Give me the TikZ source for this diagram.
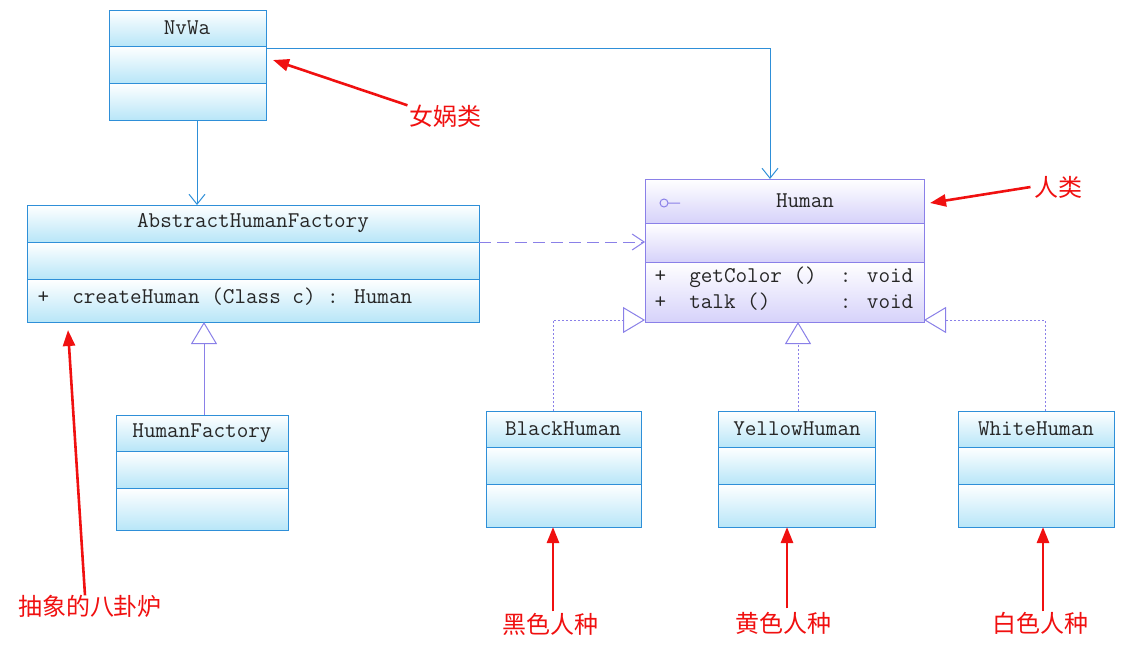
\documentclass[tikz,border=0pt]{standalone}
\usepackage{fontspec}
\newfontfamily\cjk{Noto Sans CJK SC}
\usetikzlibrary{arrows.meta}
\definecolor{bl}{HTML}{2E8FD8}
\definecolor{bfill}{HTML}{B8E6F8}
\definecolor{pl}{HTML}{8A80E8}
\definecolor{pfill}{HTML}{D6D2FA}
\definecolor{rd}{HTML}{F01010}
\tikzset{
  lbl/.style={font=\ttfamily\fontsize{22.5}{25}\selectfont, text=black!85},
  ann/.style={font=\cjk\fontsize{24}{28}\selectfont, text=rd},
  redarr/.style={draw=rd, line width=2.6pt, -{Triangle[length=16pt,width=12pt]}},
  assoc/.style={draw=bl, line width=1pt, -{Straight Barb[length=10pt,width=16pt]}},
  dep/.style={draw=pl, line width=1pt, dash pattern=on 12pt off 6pt, -{Straight Barb[length=12pt,width=16pt]}},
  gen/.style={draw=pl, line width=1pt, -{Triangle[open,length=22pt,width=26pt,fill=white]}},
  rgen/.style={gen, dash pattern=on 2pt off 2pt},
}
% \umlbox{name}{x1}{y1}{x2}{y2}{l1}{l2}{col}{fill}
\newcommand{\umlbox}[9]{%
  \shade[top color=white,bottom color=#9] (#2,#3) rectangle (#4,#6);
  \shade[top color=white,bottom color=#9] (#2,#6) rectangle (#4,#7);
  \shade[top color=white,bottom color=#9] (#2,#7) rectangle (#4,#5);
  \draw[#8,line width=1pt] (#2,#3) rectangle (#4,#5) (#2,#6) -- (#4,#6) (#2,#7) -- (#4,#7);
  \node[minimum width={(#4-#2)*1pt},minimum height={(#5-#3)*1pt},inner sep=0,outer sep=0] (#1) at ({(#2+#4)/2},{(#3+#5)/2}) {};
}
\begin{document}
\begin{tikzpicture}[x=1pt,y=-1pt]
\useasboundingbox (0,0) rectangle (1146,651);
\umlbox{nvwa}{109}{10}{266}{120}{46}{83}{bl}{bfill}
\node[lbl] at (187,28) {NvWa};
\umlbox{ahf}{27}{205}{479}{322}{242}{279}{bl}{bfill}
\node[lbl] at (253,223) {AbstractHumanFactory};
\node[lbl,anchor=west] at (34,297) {+\ \ createHuman (Class c) : Human};
\umlbox{hf}{116}{415}{288}{530}{451}{488}{bl}{bfill}
\node[lbl] at (202,433) {HumanFactory};
\umlbox{human}{645}{179}{924}{322}{223}{262}{pl}{pfill}
\node[lbl] at (805,201) {Human};
\draw[pl,line width=1pt] (664,203) circle (4) (668,203) -- (680,203);
\node[lbl,anchor=west] at (651,277) {+\ \ getColor ()\ \ : void};
\node[lbl,anchor=west] at (651,302) {+\ \ talk ()\ \ \ \ \ \ : void};
\umlbox{black}{486}{411}{641}{527}{447}{484}{bl}{bfill}
\node[lbl] at (563,429) {BlackHuman};
\umlbox{yellow}{718}{411}{875}{527}{447}{484}{bl}{bfill}
\node[lbl] at (797,429) {YellowHuman};
\umlbox{white}{958}{411}{1114}{527}{447}{484}{bl}{bfill}
\node[lbl] at (1036,429) {WhiteHuman};
% connectors
\draw[assoc] (nvwa.east |- 0,48) -| (human.north -| 770,0);
\draw[assoc] (nvwa.south -| 197,0) -- (ahf.north -| 197,0);
\draw[dep] (ahf.east |- 0,242) -- (human.west |- 0,242);
\draw[gen] (hf.north -| 204,0) -- (ahf.south -| 204,0);
\draw[rgen] (black.north -| 553,0) |- (human.west |- 0,320);
\draw[rgen] (yellow.north -| 798,0) -- (human.south -| 798,0);
\draw[rgen] (white.north -| 1045,0) |- (human.east |- 0,320);
% annotations
\node[ann] (a1) at (445,116) {女娲类};
\node[ann] (a2) at (1058,187) {人类};
\node[ann] (a3) at (90,606) {抽象的八卦炉};
\node[ann] (a4) at (550,624) {黑色人种};
\node[ann] (a5) at (783,623) {黄色人种};
\node[ann] (a6) at (1040,623) {白色人种};
\draw[redarr] (a1.north west) ++(2,4) -- (273,60);
\draw[redarr] (a2.west) -- (930,203);
\draw[redarr] (a3.north) ++(-5,4) -- (68,330);
\draw[redarr] (a4.north) ++(3,2) -- (black.south -| 553,0);
\draw[redarr] (a5.north) ++(4,0) -- (yellow.south -| 787,0);
\draw[redarr] (a6.north) ++(3,3) -- (white.south -| 1043,0);
\end{tikzpicture}
\end{document}
